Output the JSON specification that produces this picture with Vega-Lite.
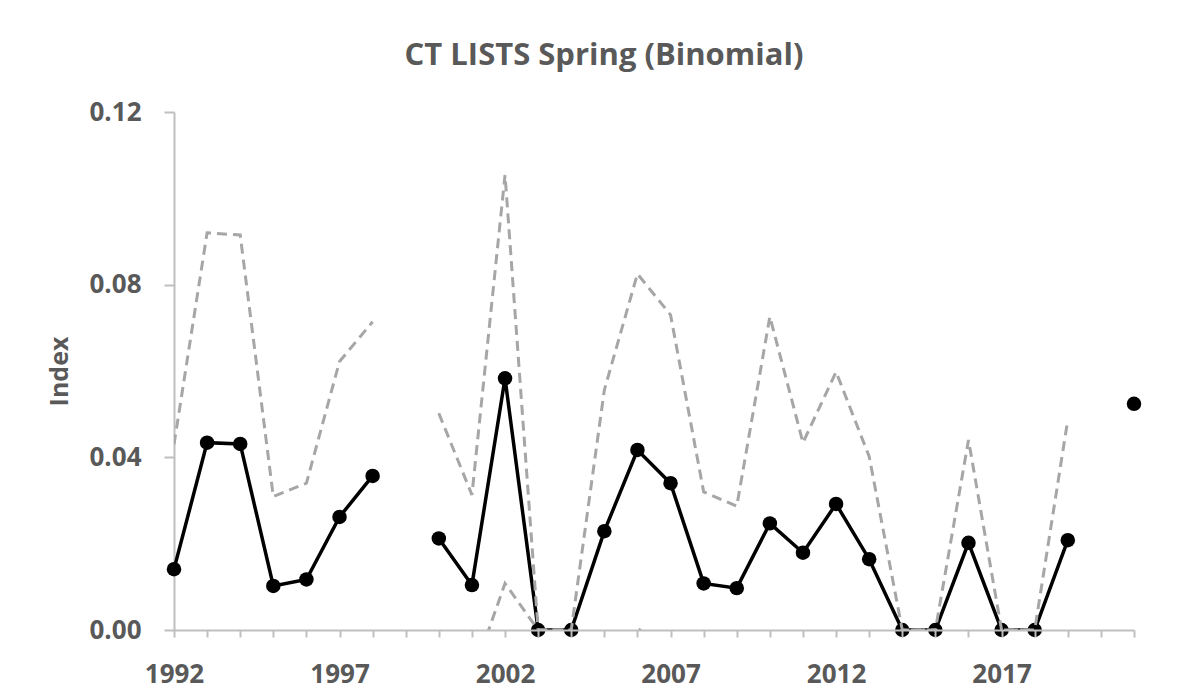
{
  "$schema": "https://vega.github.io/schema/vega-lite/v6.json",
  "width": 960,
  "height": 518,
  "autosize": "none",
  "padding": {"left": 174, "top": 112, "right": 54, "bottom": 70},
  "background": "white",
  "title": {
    "text": "CT LISTS Spring (Binomial)",
    "font": "Open Sans",
    "fontSize": 31,
    "fontWeight": "bold",
    "color": "#595959",
    "anchor": "middle",
    "dx": -50,
    "offset": 27
  },
  "config": {
    "view": {"stroke": null},
    "font": "Open Sans",
    "axis": {
      "labelFont": "Open Sans",
      "labelFontSize": 26,
      "labelFontWeight": "bold",
      "labelColor": "#595959",
      "titleFont": "Open Sans",
      "titleFontSize": 25,
      "titleFontWeight": "bold",
      "titleColor": "#595959",
      "domainColor": "#bfbfbf",
      "domainWidth": 2,
      "tickColor": "#bfbfbf",
      "tickWidth": 2,
      "grid": false
    }
  },
  "data": {
    "values": [
      {"year": 1992, "index": 0.0141, "upper": 0.0430, "lower": -0.0150},
      {"year": 1993, "index": 0.0434, "upper": 0.0920, "lower": -0.0050},
      {"year": 1994, "index": 0.0431, "upper": 0.0915, "lower": -0.0050},
      {"year": 1995, "index": 0.0102, "upper": 0.0309, "lower": -0.0105},
      {"year": 1996, "index": 0.0117, "upper": 0.0340, "lower": -0.0106},
      {"year": 1997, "index": 0.0262, "upper": 0.0622, "lower": -0.0098},
      {"year": 1998, "index": 0.0357, "upper": 0.0714, "lower": -0.0020},
      {"year": 1999, "index": null, "upper": null, "lower": null},
      {"year": 2000, "index": 0.0212, "upper": 0.0502, "lower": -0.0078},
      {"year": 2001, "index": 0.0104, "upper": 0.0313, "lower": -0.0110},
      {"year": 2002, "index": 0.0583, "upper": 0.1054, "lower": 0.0108},
      {"year": 2003, "index": 0.0, "upper": 0.0, "lower": 0.0},
      {"year": 2004, "index": 0.0, "upper": 0.0, "lower": 0.0},
      {"year": 2005, "index": 0.0229, "upper": 0.0556, "lower": -0.0098},
      {"year": 2006, "index": 0.0417, "upper": 0.0825, "lower": 0.0004},
      {"year": 2007, "index": 0.0340, "upper": 0.0730, "lower": -0.0050},
      {"year": 2008, "index": 0.0108, "upper": 0.0320, "lower": -0.0104},
      {"year": 2009, "index": 0.0097, "upper": 0.0287, "lower": -0.0093},
      {"year": 2010, "index": 0.0247, "upper": 0.0726, "lower": -0.0232},
      {"year": 2011, "index": 0.0179, "upper": 0.0434, "lower": -0.0076},
      {"year": 2012, "index": 0.0292, "upper": 0.0598, "lower": -0.0014},
      {"year": 2013, "index": 0.0164, "upper": 0.0402, "lower": -0.0074},
      {"year": 2014, "index": 0.0, "upper": 0.0, "lower": 0.0},
      {"year": 2015, "index": 0.0, "upper": 0.0, "lower": 0.0},
      {"year": 2016, "index": 0.0202, "upper": 0.0440, "lower": -0.0036},
      {"year": 2017, "index": 0.0, "upper": 0.0, "lower": 0.0},
      {"year": 2018, "index": 0.0, "upper": 0.0, "lower": 0.0},
      {"year": 2019, "index": 0.0208, "upper": 0.0487, "lower": -0.0071},
      {"year": 2020, "index": null, "upper": null, "lower": null},
      {"year": 2021, "index": 0.0524, "upper": null, "lower": null}
    ]
  },
  "encoding": {
    "x": {
      "field": "year",
      "type": "quantitative",
      "scale": {"domain": [1992, 2021], "nice": false, "zero": false},
      "axis": {
        "title": null,
        "values": [1992,1993,1994,1995,1996,1997,1998,1999,2000,2001,2002,2003,2004,2005,2006,2007,2008,2009,2010,2011,2012,2013,2014,2015,2016,2017,2018,2019,2020,2021],
        "labelExpr": "(datum.value - 1992) % 5 == 0 ? datum.label : ''",
        "format": "d",
        "tickSize": 7,
        "labelPadding": 24,
        "labelFlush": false,
        "labelOverlap": false,
        "zindex": 1
      }
    }
  },
  "layer": [
    {
      "mark": {"type": "line", "color": "#000000", "strokeWidth": 3.5, "clip": true, "invalid": "break-paths-show-domains"},
      "encoding": {
        "y": {
          "field": "index",
          "type": "quantitative",
          "scale": {"domain": [0, 0.12], "nice": false},
          "axis": {
            "title": "Index",
            "values": [0, 0.04, 0.08, 0.12],
            "format": ".2f",
            "tickSize": 10,
            "labelPadding": 23,
            "titlePadding": 16
          }
        }
      }
    },
    {
      "mark": {"type": "point", "shape": "circle", "filled": true, "color": "#000000", "size": 210, "opacity": 1},
      "encoding": {
        "y": {"field": "index", "type": "quantitative"}
      }
    },
    {
      "mark": {"type": "line", "color": "#a6a6a6", "strokeWidth": 3, "strokeDash": [10, 6], "clip": true, "invalid": "break-paths-show-domains"},
      "encoding": {
        "y": {"field": "upper", "type": "quantitative"}
      }
    },
    {
      "mark": {"type": "line", "color": "#a6a6a6", "strokeWidth": 3, "strokeDash": [10, 6], "clip": true, "invalid": "break-paths-show-domains"},
      "encoding": {
        "y": {"field": "lower", "type": "quantitative"}
      }
    }
  ]
}
